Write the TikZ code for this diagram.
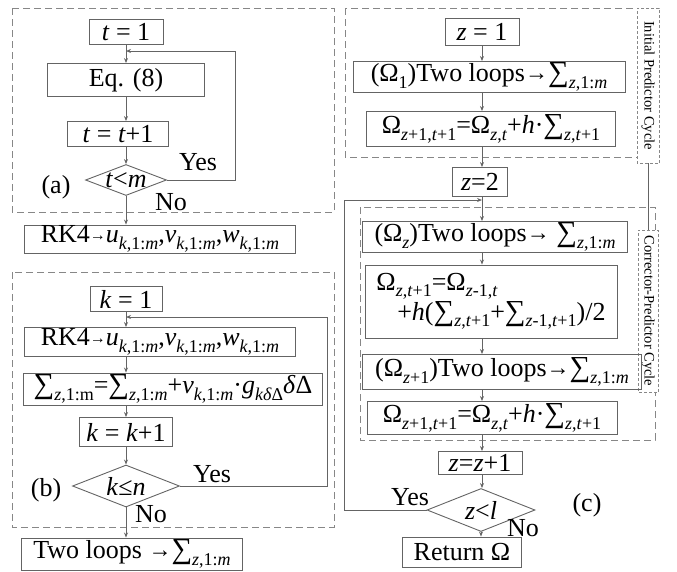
\documentclass[tikz,border=0pt]{standalone}
\usepackage{fontspec}
\setmainfont{Liberation Serif}
\usetikzlibrary{arrows.meta, shapes.geometric}
\definecolor{boxgray}{RGB}{100,100,100}
\definecolor{dashgray}{RGB}{135,135,135}
\newcommand{\iv}[1]{\textit{#1}}
\newcommand{\lo}[1]{\raisebox{-0.25em}{\fontsize{18}{18}\selectfont #1}}
\newcommand{\sm}{{\fontsize{29}{29}\selectfont ∑}}
\newcommand{\goes}{\raisebox{0.1em}{\fontsize{16}{16}\selectfont →}}
\newcommand{\goesl}{\raisebox{0.05em}{\fontsize{23}{23}\selectfont →}}
\tikzset{
  flowbox/.style 2 args={draw=boxgray, line width=0.9pt, inner sep=0pt,
    minimum width=#1pt, minimum height=#2pt},
  decide/.style 2 args={diamond, draw=boxgray, line width=0.9pt, inner sep=-10pt,
    minimum width=#1pt, minimum height=#2pt},
  flow/.style={draw=boxgray, line width=0.9pt, -{Stealth[length=5pt,width=4pt]}},
  panel/.style={draw=dashgray, line width=0.9pt, dash pattern=on 7pt off 4pt},
  cyclelbl/.style 2 args={draw=dashgray, line width=0.8pt, dash pattern=on 3pt off 2pt,
    fill=white, rotate=-90, inner sep=0pt, minimum width=#1pt, minimum height=#2pt,
    font=\fontsize{14.5}{16}\selectfont},
}

\begin{document}
\begin{tikzpicture}[x=1pt, y=-1pt, every node/.style={font=\fontsize{26}{30}\selectfont}]
    \useasboundingbox (0,0) rectangle (677,571);

    %% (a) coefficient loop
    \draw[panel] (12,8) rectangle (334,212);
    \node[flowbox={74}{25}] (ta) at (126,32) {\iv{t} = 1};
    \coordinate (ja) at (126,51);
    \node[flowbox={157}{33}] (eq) at (126,80) {Eq. (8)};
    \node[flowbox={101}{25}] (tinc) at (118,134) {\iv{t} = \iv{t}+1};
    \node[decide={81}{31}] (da) at (126,180) {\iv{t}<\iv{m}};
    \node (alab) at (56,187) {(a)};
    \node (ayes) at (198,162) {Yes};
    \node (ano) at (171,202) {No};
    \draw[flow] (ta) -- (eq);
    \draw[flow] (eq.south) -- (eq.south |- tinc.north);
    \draw[flow] (tinc.south -| da) -- (da);
    \draw[flow] (da.east) -- ++(68,0) |- (ja);

    \node[flowbox={271}{28}] (rka) at (160,239)
      {RK4\goes\iv{u}\lo{\iv{k},1:\iv{m}},\iv{v}\lo{\iv{k},1:\iv{m}},\iv{w}\lo{\iv{k},1:\iv{m}}};
    \draw[flow] (da.south) -- (da.south |- rka.north);

    %% (b) sum loop
    \draw[panel] (12,272) rectangle (334,527);
    \node[flowbox={72}{25}] (kb) at (126,299) {\iv{k} = 1};
    \coordinate (jb) at (126,317);
    \node[flowbox={271}{29}] (rkb) at (160,342)
      {RK4\goes\iv{u}\lo{\iv{k},1:\iv{m}},\iv{v}\lo{\iv{k},1:\iv{m}},\iv{w}\lo{\iv{k},1:\iv{m}}};
    \node[flowbox={299}{32}] (sm) at (173,389)
      {\sm\lo{\iv{z},1:m}=\sm\lo{\iv{z},1:\iv{m}}+\iv{v}\lo{\iv{k},1:\iv{m}}·\iv{g}\lo{\iv{kδ}Δ}\iv{δ}Δ};
    \node[flowbox={93}{29}] (kinc) at (126,432) {\iv{k} = \iv{k}+1};
    \node[decide={107}{42}] (db) at (126,486) {\iv{k}≤\iv{n}};
    \node (blab) at (46,490) {(b)};
    \node (byes) at (212,474) {Yes};
    \node (bno) at (151,514) {No};
    \draw[flow] (kb.south) -- (kb.south |- rkb.north);
    \draw[flow] (rkb.south -| kb) -- (sm.north -| kb);
    \draw[flow] (sm.south -| kb) -- (kinc);
    \draw[flow] (kinc) -- (db);
    \draw[flow] (db.east) -- ++(147.5,0) |- (jb);

    \node[flowbox={221}{32}] (tl) at (132,554) {Two loops \goesl\sm\lo{\iv{z},1:\iv{m}}};
    \draw[flow] (db.south) -- (db.south |- tl.north);

    %% (c) predictor-corrector
    \draw[panel] (345,8) rectangle (637,157);
    \draw[panel] (360,207) rectangle (655,440);
    \node[cyclelbl={155}{22}] (iplbl) at (648,85.5) {Initial Predictor Cycle};
    \node[cyclelbl={162}{20}] (cplbl) at (648,311) {Corrector-Predictor Cycle};
    \draw[draw=boxgray, line width=0.9pt] (iplbl.east) -- (cplbl.west);

    \node[flowbox={74}{27}] (z1) at (482,32) {\iv{z} = 1};
    \node[flowbox={272}{31}] (om1) at (489,77) {(Ω\lo{1})Two loops\goesl\sm\lo{\iv{z},1:\iv{m}}};
    \node[flowbox={249}{35}] (omu) at (491,129)
      {Ω\lo{\iv{z}+1,\iv{t}+1}=Ω\lo{\iv{z},\iv{t}}+\iv{h}·\sm\lo{\iv{z},\iv{t}+1}};
    \node[flowbox={55}{29}] (z2) at (480,182) {\iv{z}=2};
    \coordinate (jc) at (482,200);
    \node[flowbox={265}{31}] (omz) at (495,237) {(Ω\lo{\iv{z}})Two loops\goesl\ \sm\lo{\iv{z},1:\iv{m}}};
    \node[flowbox={252}{73}, align=left] (big) at (491,301.5)
      {Ω\lo{\iv{z},\iv{t}+1}=Ω\lo{\iv{z}-1,\iv{t}}\\
       \hspace*{0.8em}+\iv{h}(\sm\lo{\iv{z},\iv{t}+1}+\sm\lo{\iv{z}-1,\iv{t}+1})/2};
    \node[flowbox={279}{35}] (om2) at (502,372) {(Ω\lo{\iv{z}+1})Two loops\goesl\sm\lo{\iv{z},1:\iv{m}}};
    \node[flowbox={250}{33}] (omv) at (492,418)
      {Ω\lo{\iv{z}+1,\iv{t}+1}=Ω\lo{\iv{z},\iv{t}}+\iv{h}·\sm\lo{\iv{z},\iv{t}+1}};
    \node[flowbox={84}{23}] (zinc) at (480,463) {\iv{z}=\iv{z}+1};
    \node[decide={108}{43}] (dc) at (481,510) {\iv{z}<\iv{l}};
    \node[flowbox={119}{30}] (ret) at (462,552) {Return Ω};
    \node (clab) at (587,505) {(c)};
    \node (cyes) at (410,497) {Yes};
    \node (cno) at (523,528) {No};

    \draw[flow] (z1) -- (om1.north -| z1);
    \draw[flow] (om1.south -| z1) -- (omu.north -| z1);
    \draw[flow] (omu.south -| z1) -- (z2.north -| z1);
    \draw[flow] (z2.south -| z1) -- (omz.north -| z1);
    \draw[flow] (omz.south -| z1) -- (big.north -| z1);
    \draw[flow] (big.south -| z1) -- (om2.north -| z1);
    \draw[flow] (om2.south -| z1) -- (omv.north -| z1);
    \draw[flow] (omv.south -| z1) -- (zinc.north -| z1);
    \draw[flow] (zinc.south -| z1) -- (dc.north -| z1);
    \draw[flow] (dc.south) -- (dc.south |- ret.north);
    \draw[flow] (dc.west) -- ++(-82,0) |- (jc);
  \end{tikzpicture}
\end{document}
